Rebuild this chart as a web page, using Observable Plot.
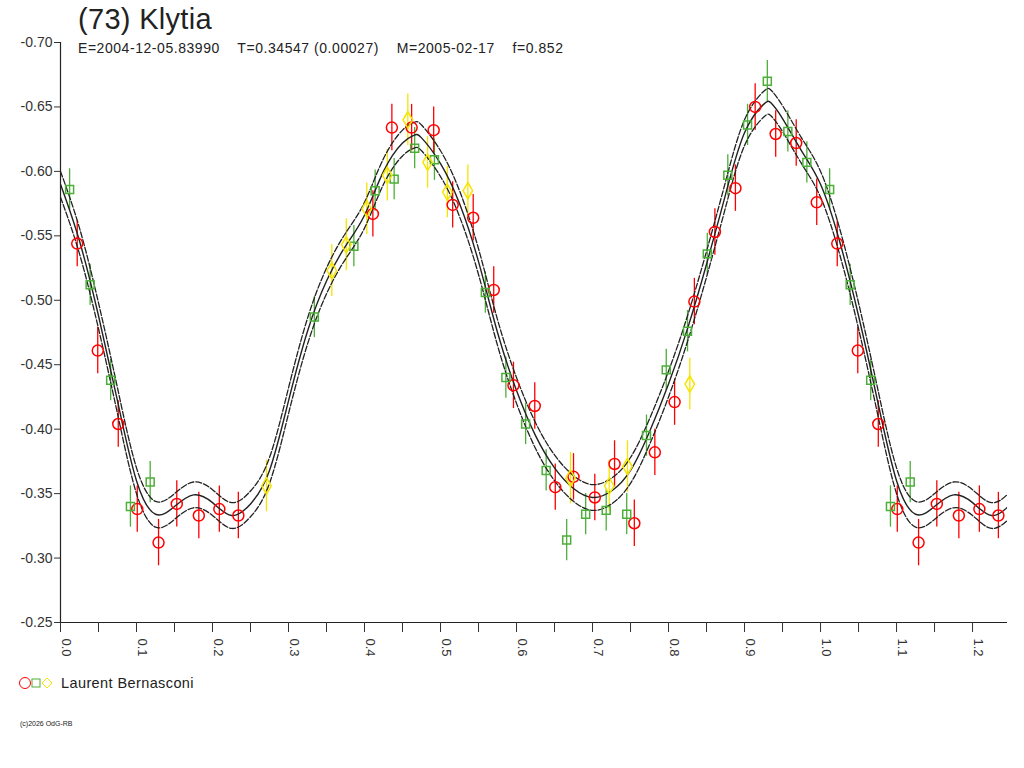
<!DOCTYPE html>
<html><head><meta charset="utf-8">
<script src="https://cdn.jsdelivr.net/npm/d3@7"></script>
<script src="https://cdn.jsdelivr.net/npm/@observablehq/plot@0.6"></script>
<style>
body{margin:0;background:#fff;font-family:"Liberation Sans",Arial,sans-serif;color:#222;width:1024px;height:768px;position:relative;overflow:hidden}
#head{position:relative;height:34px}
#title{position:absolute;left:78px;top:3px;font-size:29px;letter-spacing:0.3px}
#sub{position:absolute;left:78px;top:40px;font-size:14px;letter-spacing:0.55px;z-index:2;white-space:pre}
#legend{position:absolute;left:18px;top:675px;font-size:14.5px;letter-spacing:0.4px;display:flex;align-items:center;gap:3px}
#copy{position:absolute;left:20px;top:720px;font-size:7px}
</style></head><body>
<div id="head"><div id="title">(73) Klytia</div></div>
<div id="sub">E=2004-12-05.83990    T=0.34547 (0.00027)    M=2005-02-17    f=0.852</div>
<div id="chart"></div>
<div id="legend"><svg width="40" height="14"><circle cx="7" cy="7" r="5.5" fill="none" stroke="#ff0000"/><rect x="14" y="3" width="8" height="8" fill="none" stroke="#4caf38"/><path d="M29 2 L34 7 L29 12 L24 7Z" fill="none" stroke="#f5e400"/></svg><span>Laurent Bernasconi</span></div>
<div id="copy">(c)2026 OdG-RB</div>
<script>
// fit curve (phase 0..1)
const curvePhase = [0,0.025,0.05,0.075,0.1,0.125,0.15,0.175,0.2,0.225,0.25,0.275,0.3,0.325,0.35,0.375,0.4,0.425,0.45,0.465,0.475,0.5,0.525,0.55,0.575,0.6,0.625,0.65,0.675,0.7,0.725,0.75,0.775,0.8,0.825,0.85,0.875,0.9,0.925,0.935,0.95,0.975,1.0];
const curveMag = [-0.590,-0.546,-0.488,-0.422,-0.360,-0.334,-0.340,-0.349,-0.343,-0.333,-0.342,-0.368,-0.422,-0.476,-0.515,-0.542,-0.566,-0.600,-0.622,-0.628,-0.626,-0.606,-0.575,-0.530,-0.475,-0.430,-0.395,-0.370,-0.354,-0.347,-0.352,-0.368,-0.398,-0.435,-0.478,-0.528,-0.582,-0.630,-0.652,-0.653,-0.641,-0.616,-0.590];
const band = 0.010;

const redPhase = [0.022,0.049,0.076,0.101,0.129,0.153,0.182,0.209,0.234,0.411,0.436,0.462,0.491,0.516,0.543,0.570,0.596,0.624,0.651,0.675,0.703,0.729,0.755,0.782,0.808,0.834,0.861,0.888,0.914,0.941,0.968,0.995];
const redMag = [-0.544,-0.461,-0.404,-0.338,-0.312,-0.342,-0.333,-0.338,-0.333,-0.567,-0.634,-0.634,-0.632,-0.574,-0.564,-0.508,-0.434,-0.418,-0.355,-0.363,-0.347,-0.373,-0.327,-0.382,-0.421,-0.499,-0.553,-0.587,-0.650,-0.629,-0.622,-0.576];
const greenPhase = [0.012,0.039,0.066,0.092,0.118,0.334,0.386,0.414,0.439,0.466,0.492,0.559,0.586,0.612,0.639,0.666,0.691,0.718,0.745,0.771,0.797,0.825,0.851,0.878,0.904,0.930,0.957,0.982];
const greenMag = [-0.586,-0.512,-0.438,-0.340,-0.359,-0.487,-0.542,-0.585,-0.594,-0.618,-0.609,-0.506,-0.440,-0.404,-0.368,-0.314,-0.334,-0.337,-0.334,-0.395,-0.446,-0.476,-0.536,-0.597,-0.636,-0.670,-0.631,-0.607];
const yellowPhase = [0.271,0.357,0.376,0.403,0.430,0.457,0.483,0.509,0.536,0.671,0.722,0.746,0.828];
const yellowMag = [-0.356,-0.523,-0.543,-0.571,-0.597,-0.640,-0.607,-0.584,-0.585,-0.362,-0.356,-0.371,-0.435];
const errRed = 0.018, errGreen = 0.016, errYellow = 0.02;
const yTicks = [-0.70,-0.65,-0.60,-0.55,-0.50,-0.45,-0.40,-0.35,-0.30,-0.25];
const xTicks = [0,0.1,0.2,0.3,0.4,0.5,0.6,0.7,0.8,0.9,1.0,1.1,1.2];
const xMinor = [0.05,0.15,0.25,0.35,0.45,0.55,0.65,0.75,0.85,0.95,1.05,1.15];
const xMax = 1.246;

function ext(ph, mg, extra){const out=[];ph.forEach((p,i)=>{out.push({x:p,y:mg[i],...extra});if(p+1<=xMax)out.push({x:p+1,y:mg[i],...extra});});return out;}
const curve=[];
curvePhase.forEach((p,i)=>curve.push({x:p,y:curveMag[i]}));
curvePhase.forEach((p,i)=>{if(p>0&&p+1<=1.3)curve.push({x:p+1,y:curveMag[i]});});
const red=ext(redPhase,redMag,{c:"#ff0000",e:errRed});
const green=ext(greenPhase,greenMag,{c:"#4caf38",e:errGreen});
const yellow=ext(yellowPhase,yellowMag,{c:"#f5e400",e:errYellow});
const all=[...green,...yellow,...red];

const chart = Plot.plot({
  width:1024, height:640, marginLeft:60, marginRight:17, marginTop:8, marginBottom:52,
  style:{fontFamily:"Liberation Sans, Arial, sans-serif",fontSize:"13px",color:"#333"},
  x:{domain:[0,xMax],axis:null},
  y:{domain:[-0.70,-0.25],reverse:true,axis:null},
  marks:[
    Plot.ruleX(all,{x:"x",y1:d=>d.y-d.e,y2:d=>d.y+d.e,stroke:"c",strokeWidth:1.3}),
    Plot.line(curve,{x:"x",y:"y",curve:"natural",stroke:"#222",strokeWidth:1.4,clip:true}),
    Plot.line(curve,{x:"x",y:d=>d.y+band,curve:"natural",stroke:"#222",strokeWidth:1.3,strokeDasharray:"6,2",clip:true}),
    Plot.line(curve,{x:"x",y:d=>d.y-band,curve:"natural",stroke:"#222",strokeWidth:1.3,strokeDasharray:"6,2",clip:true}),
    Plot.dot(red,{x:"x",y:"y",r:5.5,stroke:"c",symbol:"circle",fill:"none"}),
    Plot.dot(green,{x:"x",y:"y",r:4.5,stroke:"c",symbol:"square",fill:"none"}),
    Plot.dot(yellow,{x:"x",y:"y",r:5,stroke:"c",symbol:"diamond",fill:"none"}),
    Plot.ruleX([0],{stroke:"#222",strokeWidth:1.2}),
    Plot.ruleY([-0.25],{stroke:"#222",strokeWidth:1.2}),
    Plot.axisY(yTicks,{tickSize:6,tickFormat:d=>d.toFixed(2),tickPadding:2,fontSize:14,fill:"#333",label:null}),
    Plot.axisX([...xTicks,...xMinor],{tickSize:10,tickFormat:()=>"",label:null}),
    Plot.text(xTicks,{x:d=>d,y:-0.25,text:d=>d.toFixed(1),rotate:90,textAnchor:"start",dy:16,dx:6,fontSize:13,fill:"#333"})
  ]
});
document.getElementById("chart").appendChild(chart);
</script></body></html>
